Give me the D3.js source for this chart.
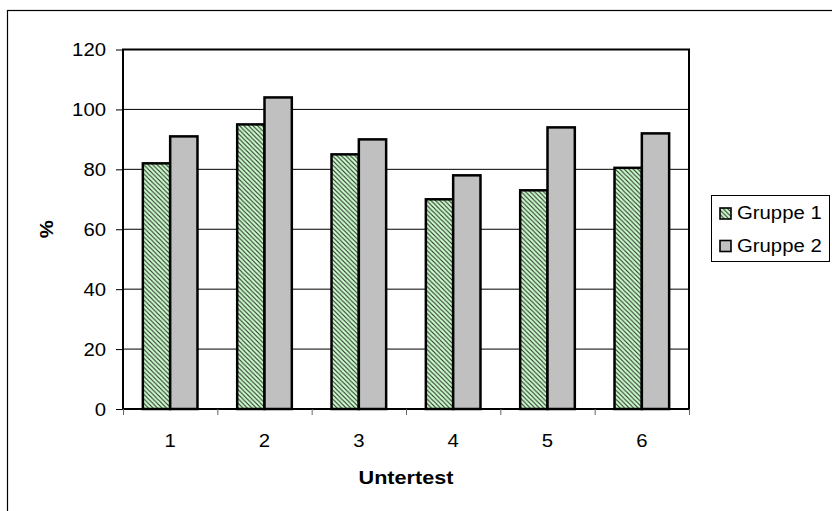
<!DOCTYPE html>
<html><head><meta charset="utf-8">
<script src="https://cdn.jsdelivr.net/npm/d3@7"></script>
<style>body{margin:0;background:#fff}svg{display:block}text{font-family:Arial,"Liberation Sans",sans-serif}</style>
</head><body>
<script>
const categories = ["1","2","3","4","5","6"];
const seriesNames = ["Gruppe 1","Gruppe 2"];
const gruppe1 = [82, 95, 85, 70, 73, 80.5];
const gruppe2 = [91, 104, 90, 78, 94, 92];
const yTicks = [0,20,40,60,80,100,120];
const xTitle = "Untertest";
const yTitle = "%";

(function(){
const W = 832, H = 511;
const FS = 18, SX = 1.13;
const svg = d3.select("body").append("svg").attr("width", W).attr("height", H);

const defs = svg.append("defs");
const P = 4.5;
const pat = defs.append("pattern").attr("id","hatch").attr("patternUnits","userSpaceOnUse")
  .attr("width",P).attr("height",P);
pat.append("rect").attr("width",P).attr("height",P).attr("fill","#ccffcc");
pat.append("path").attr("d",`M-1,-1L${P+1},${P+1}M-1,${P-1}L1,${P+1}M${P-1},-1L${P+1},1`)
  .attr("stroke","#2a2a2a").attr("stroke-width",1.1);

// outer chart border (extends past the right/bottom edges)
svg.append("rect").attr("x",7.5).attr("y",10.5).attr("width",900).attr("height",600)
  .attr("fill","none").attr("stroke","#000").attr("stroke-width",1.2);

const pL = 123, pR = 689, pT = 49.5, pB = 409;
const y = d3.scaleLinear().domain([0,120]).range([pB, pT]);
const x0 = d3.scaleBand().domain(categories).range([pL, pR]).padding(0);
const x1 = d3.scaleBand().domain(seriesNames).range([0, x0.bandwidth()]).paddingInner(0).paddingOuter(0.727);
const xb = d3.scaleLinear().domain([0, categories.length]).range([pL, pR]);

const fills = {"Gruppe 1":"url(#hatch)","Gruppe 2":"#c0c0c0"};

// gridlines
svg.append("g").selectAll("line").data(yTicks.filter(t => t>0 && t<120)).join("line")
  .attr("x1",pL).attr("x2",pR).attr("y1",d=>y(d)).attr("y2",d=>y(d))
  .attr("stroke","#000").attr("stroke-width",1);

// bars
const rows = categories.map((c,i)=>({c, vals:[{s:"Gruppe 1",v:gruppe1[i]},{s:"Gruppe 2",v:gruppe2[i]}]}));
const gb = svg.append("g").selectAll("g").data(rows).join("g")
  .attr("transform", d=>`translate(${x0(d.c)},0)`);
gb.selectAll("rect").data(d=>d.vals).join("rect")
  .attr("x", d=>x1(d.s)).attr("width", x1.bandwidth())
  .attr("y", d=>y(d.v)).attr("height", d=>y(0)-y(d.v))
  .attr("fill", d=>fills[d.s]).attr("stroke","#000").attr("stroke-width",2.5);

// plot border
svg.append("rect").attr("x",pL).attr("y",pT).attr("width",pR-pL).attr("height",pB-pT)
  .attr("fill","none").attr("stroke","#000").attr("stroke-width",2);

// y axis
const ya = svg.append("g").attr("transform",`translate(${pL},0)`)
  .call(d3.axisLeft(y).tickValues(yTicks).tickSize(7).tickSizeOuter(0).tickPadding(0));
ya.select(".domain").remove();
ya.selectAll(".tick line").attr("stroke","#000").attr("x1",-7).attr("x2",0);
ya.selectAll(".tick text").attr("x",null).attr("dy","0.35em")
  .attr("transform",`translate(-17,0) scale(${SX},1)`)
  .attr("font-size",FS).attr("fill","#000").attr("font-family","Arial, 'Liberation Sans', sans-serif");

// x axis boundary ticks
const xa = svg.append("g").attr("transform",`translate(0,${pB})`)
  .call(d3.axisBottom(xb).tickValues(d3.range(categories.length+1)).tickFormat("").tickSize(6).tickSizeOuter(0));
xa.select(".domain").remove();
xa.selectAll(".tick line").attr("stroke","#666");

// x labels
const xl = svg.append("g").attr("transform",`translate(0,${pB})`)
  .call(d3.axisBottom(x0).tickSize(0).tickPadding(0));
xl.select(".domain").remove();
xl.selectAll(".tick text").attr("y",null).attr("dy",null)
  .attr("transform",`translate(0,38) scale(${SX},1)`)
  .attr("font-size",FS).attr("fill","#000").attr("font-family","Arial, 'Liberation Sans', sans-serif");

// axis titles
svg.append("text").attr("transform",`translate(${(pL+pR)/2},484) scale(1.17,1)`)
  .attr("text-anchor","middle").attr("font-weight","bold").attr("font-size",FS+0.5).text(xTitle);
svg.append("text").attr("transform",`translate(53,${(pT+pB)/2}) rotate(-90) scale(${SX},1)`)
  .attr("text-anchor","middle").attr("font-weight","bold").attr("font-size",FS).text(yTitle);

// legend
const lg = svg.append("g");
lg.append("rect").attr("x",711.5).attr("y",195.5).attr("width",118).attr("height",66)
  .attr("fill","#fff").attr("stroke","#000").attr("stroke-width",1);
const li = lg.selectAll("g.item").data(seriesNames).join("g").attr("class","item")
  .attr("transform",(d,i)=>`translate(0,${219 + i*32.5})`);
li.append("rect").attr("x",720).attr("y",-11).attr("width",11).attr("height",11)
  .attr("fill",d=>fills[d]).attr("stroke","#000").attr("stroke-width",1.6);
li.append("text").attr("transform",`translate(737,0) scale(${SX},1)`)
  .attr("font-size",FS).text(d=>d);
})();
</script>
</body></html>
